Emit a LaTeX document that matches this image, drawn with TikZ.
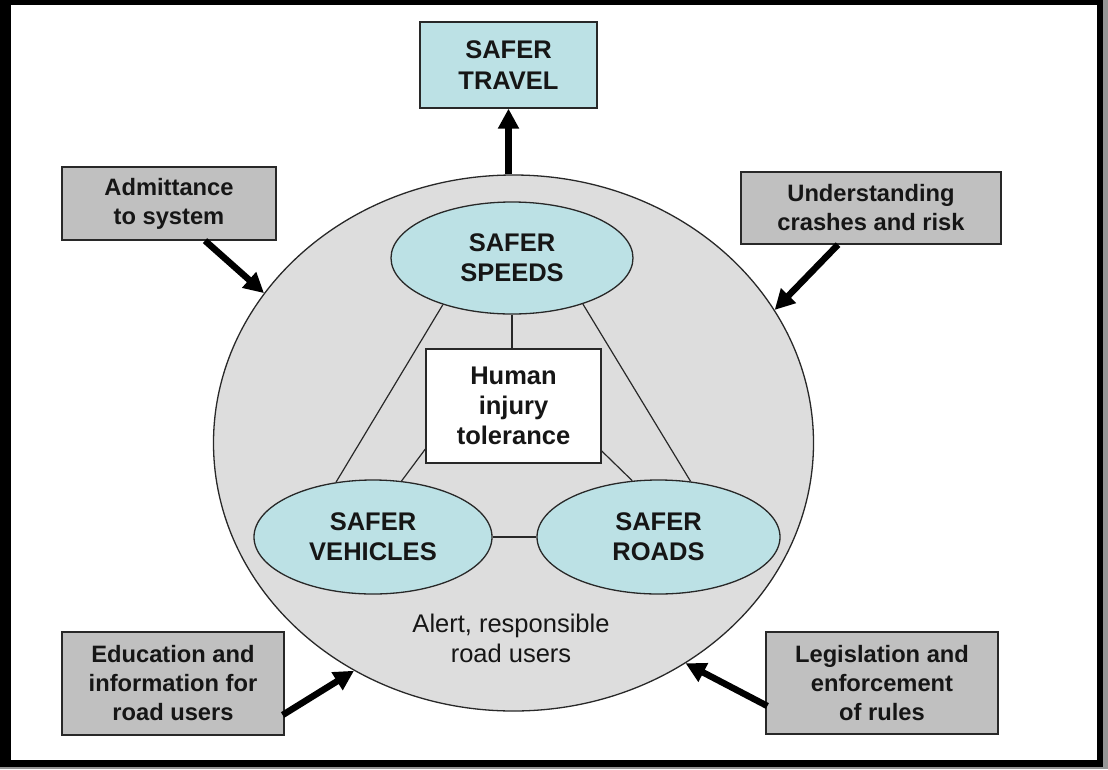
\documentclass[tikz,border=0pt]{standalone}
\usepackage{fontspec}
\setmainfont{Liberation Sans}
\usetikzlibrary{shapes.geometric,arrows.meta,calc}
\definecolor{pillfill}{RGB}{188,225,229}
\definecolor{boxgrey}{RGB}{192,192,192}
\definecolor{discgrey}{RGB}{221,221,221}
\definecolor{inkline}{RGB}{40,40,40}
\definecolor{inktext}{RGB}{22,22,22}
\definecolor{shadowgrey}{RGB}{150,150,150}
\begin{document}
\begin{tikzpicture}[x=1pt,y=-1pt,
  every node/.style={inner sep=0pt, text=inktext, align=center},
  boldlabel/.style={font=\fontsize{23.7}{29}\selectfont\bfseries},
  inputbox/.style={draw=inkline, line width=1.3pt, fill=boxgrey, boldlabel},
  pillar/.style={ellipse, draw=inkline, line width=1.3pt, fill=pillfill,
    font=\fontsize{25.5}{30}\selectfont\bfseries},
  link/.style={draw=inkline, line width=1.2pt},
  push/.style={line width=6.5pt, black, -{Triangle[length=20pt,width=20pt]}}]

% page and frame
\useasboundingbox (0,0) rectangle (1108,769);
\fill[white] (0,0) rectangle (1108,769);
\fill[shadowgrey] (1103,0) rectangle (1108,769);
\fill[shadowgrey] (0,767) rectangle (1108,769);
\fill[black] (0,0) rectangle (11,767);
\fill[black] (0,0) rectangle (1103,5);
\fill[black] (1097,0) rectangle (1103,767);
\fill[black] (0,760) rectangle (1103,767);

% the road-user disc
\node[ellipse, draw=inkline, line width=1.3pt, fill=discgrey,
  minimum width=600pt, minimum height=536pt] (disc) at (513.5,443) {};
\node[font=\fontsize{25.5}{30}\selectfont] (users) at (511,638.5)
  {Alert, responsible\\road users};

% pillars and the central box
\node[pillar, minimum width=242pt, minimum height=112pt] (speeds) at (512,258) {SAFER\\SPEEDS};
\node[pillar, minimum width=238pt, minimum height=114pt] (vehicles) at (373,537) {SAFER\\VEHICLES};
\node[pillar, minimum width=243pt, minimum height=114pt] (roads) at (658.5,537) {SAFER\\ROADS};
\node[draw=inkline, line width=1.3pt, fill=white,
  font=\fontsize{25.5}{30}\selectfont\bfseries,
  minimum width=175pt, minimum height=114pt] (human) at (513.5,406) {Human\\injury\\tolerance};

% links between the pillars
\draw[link] (speeds.south) -- (speeds.south |- human.north);
\draw[link] (speeds.214.4) -- (vehicles.124.6);
\draw[link] (speeds.-33.5) -- (roads.60.3);
\draw[link] (human.206.7) -- (vehicles.63.4);
\draw[link] (human.-27.7) -- (roads.115.7);
\draw[link] (vehicles.east) -- (roads.west);

% outcome
\node[draw=inkline, line width=1.3pt, fill=pillfill,
  font=\fontsize{25.5}{31}\selectfont\bfseries,
  minimum width=177pt, minimum height=86pt] (travel) at (508.5,65) {SAFER\\TRAVEL};
\draw[push] (travel.south |- disc.north) -- (travel.south);

% inputs to the system
\node[inputbox, minimum width=214pt, minimum height=73pt] (admit) at (169,203.5) {Admittance\\to system};
\node[inputbox, minimum width=260pt, minimum height=72pt] (crash) at (871,208) {Understanding\\crashes and risk};
\node[inputbox, minimum width=222pt, minimum height=103pt] (educ) at (173,683.5) {Education and\\information for\\road users};
\node[inputbox, minimum width=232pt, minimum height=102pt] (law) at (882,683) {Legislation and\\enforcement\\of rules};

\draw[push] ($(admit.south)+(36,0)$) -- (disc.149.2);
\draw[push] ($(crash.south)+(-33,0)$) -- (disc.27.1);
\draw[push] ($(educ.east)+(-2,31.5)$) -- (disc.235.8);
\draw[push] ($(law.west)+(2,23)$) -- (disc.-52.5);
\end{tikzpicture}
\end{document}
